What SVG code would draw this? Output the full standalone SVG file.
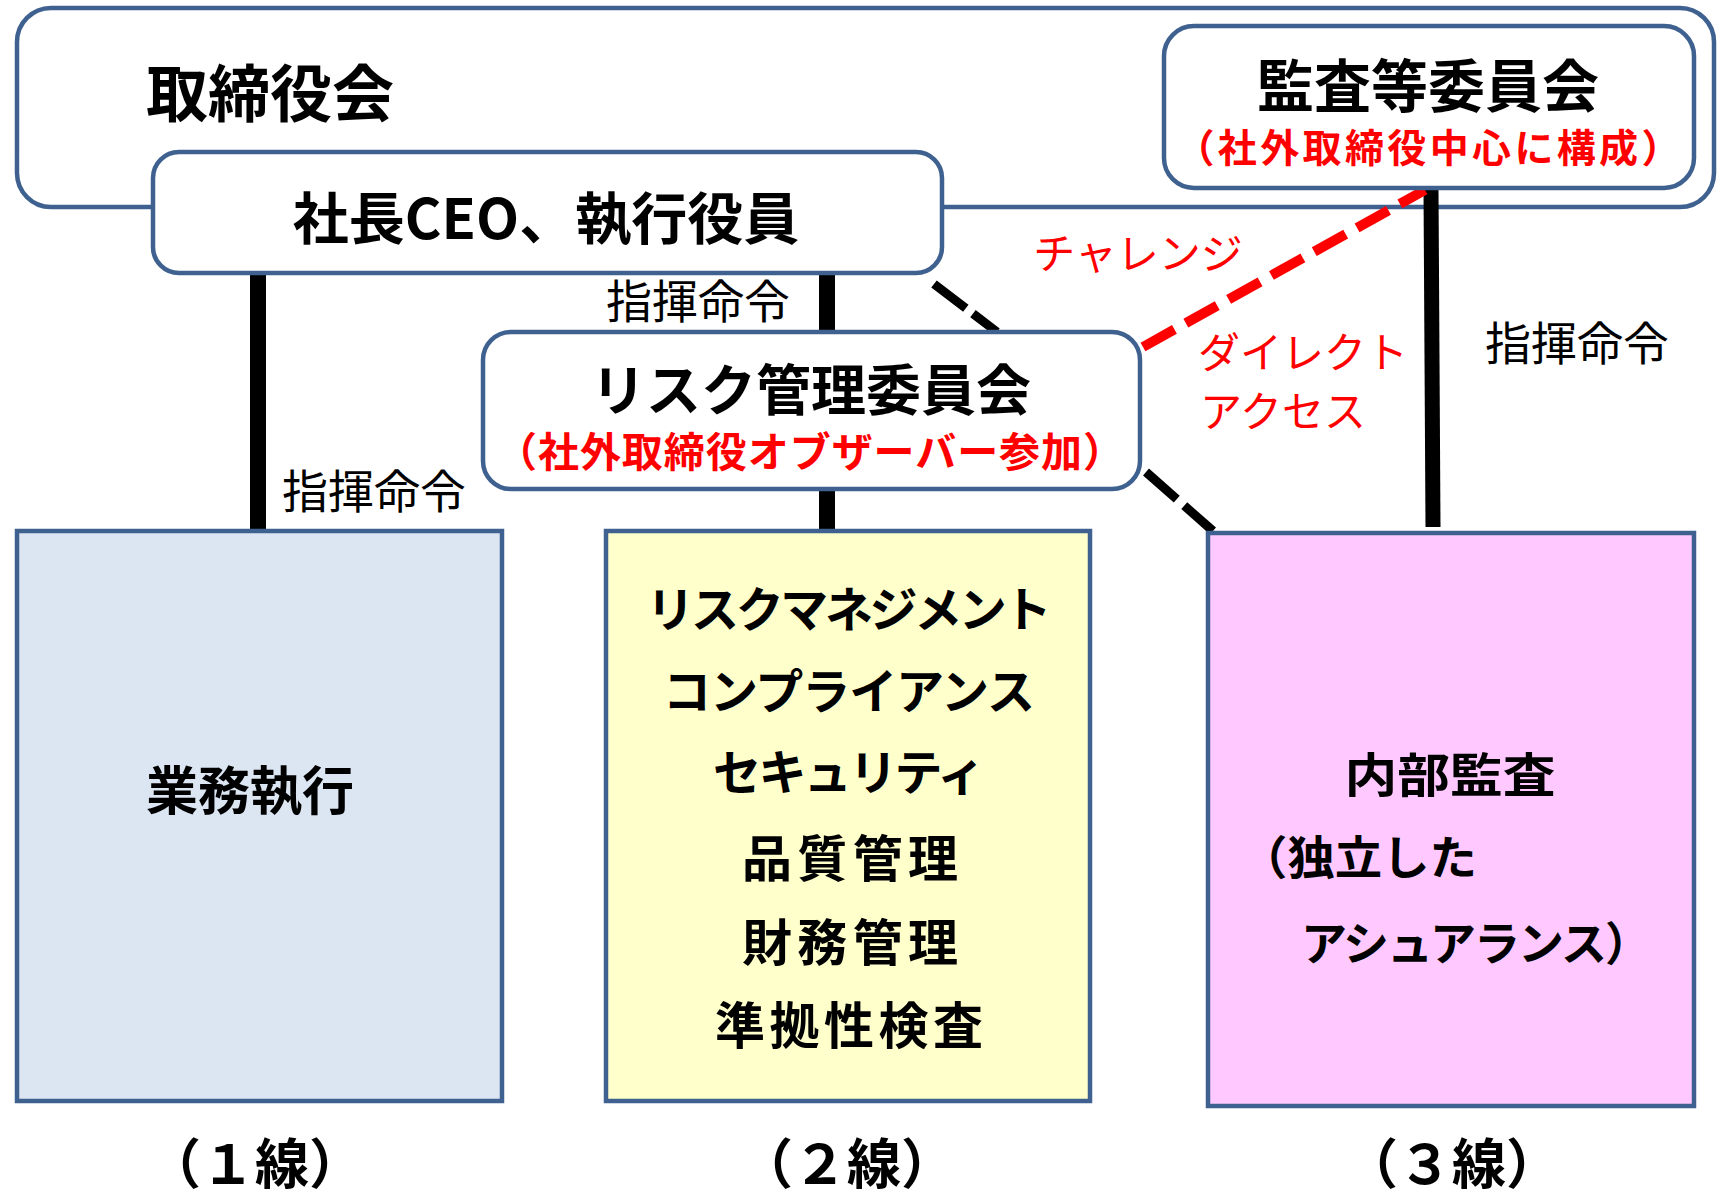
<svg xmlns="http://www.w3.org/2000/svg" width="1719" height="1197" viewBox="0 0 1719 1197">
<style>
.box{stroke:#3e6190;stroke-width:4.5;}
.t{font-family:"Noto Sans CJK JP","Noto Sans CJK SC",sans-serif;fill:#000;}
.b{font-weight:700;}
.red{fill:#ff0000;}
.solid{stroke:#000;fill:none;}
.dash{stroke:#000;stroke-width:9;fill:none;}
.rdash{stroke:#ff0000;stroke-width:10;fill:none;stroke-dasharray:36 13;}
</style>
<rect width="1719" height="1197" fill="#ffffff"/>
<g id="board">
<rect class="box" x="17" y="8" width="1697" height="199" rx="34" fill="#ffffff"/>
<text class="t b" x="146" y="117" font-size="62">取締役会</text>
</g>
<g id="connectors">
<line class="solid" x1="258" y1="273" x2="258" y2="531" stroke-width="16"/>
<line class="solid" x1="827" y1="273" x2="827" y2="332" stroke-width="16"/>
<line class="solid" x1="827" y1="489" x2="827" y2="531" stroke-width="16"/>
<line class="solid" x1="1431" y1="188" x2="1433" y2="527" stroke-width="15"/>
<line class="dash" x1="934" y1="284" x2="997" y2="332" stroke-dasharray="40 9"/>
<line class="dash" x1="1146" y1="472" x2="1213" y2="531" stroke-dasharray="41 10"/>
<line class="rdash" x1="1143" y1="347" x2="1425" y2="190"/>
</g>
<g id="ceo">
<rect class="box" x="153" y="152" width="789" height="121" rx="26" fill="#ffffff"/>
<text class="t b" x="546" y="239" font-size="56" text-anchor="middle">社長CEO、執行役員</text>
</g>
<g id="audit-committee">
<rect class="box" x="1164" y="26" width="530" height="162" rx="30" fill="#ffffff"/>
<text class="t b" x="1428" y="107" font-size="57" text-anchor="middle">監査等委員会</text>
<text class="t b red" x="1428" y="162" font-size="39" text-anchor="middle" textLength="505">（社外取締役中心に構成）</text>
</g>
<g id="risk-committee">
<rect class="box" x="483" y="332" width="657" height="157" rx="28" fill="#ffffff"/>
<text class="t b" x="811" y="410" font-size="55" text-anchor="middle">リスク管理委員会</text>
<text class="t b red" x="810" y="467" font-size="41" text-anchor="middle" textLength="628">（社外取締役オブザーバー参加）</text>
</g>
<g id="labels">
<text class="t" x="698" y="318" font-size="46" text-anchor="middle">指揮命令</text>
<text class="t" x="374" y="508" font-size="46" text-anchor="middle">指揮命令</text>
<text class="t" x="1577" y="360" font-size="46" text-anchor="middle">指揮命令</text>
<text class="t red" x="1138" y="269" font-size="42" text-anchor="middle">チャレンジ</text>
<text class="t red" x="1198" y="368" font-size="42">ダイレクト</text>
<text class="t red" x="1200" y="427" font-size="42">アクセス</text>
</g>
<g id="line1">
<rect class="box" x="17" y="531" width="485" height="570" fill="#dce6f2"/>
<text class="t b" x="250" y="810" font-size="52" text-anchor="middle">業務執行</text>
<text class="t b" x="255" y="1184" font-size="54" text-anchor="middle">（１線）</text>
</g>
<g id="line2">
<rect class="box" x="606" y="531" width="484" height="570" fill="#ffffcc"/>
<text class="t b" x="849" y="627" font-size="48" text-anchor="middle" textLength="405">リスクマネジメント</text>
<text class="t b" x="849" y="709" font-size="48" text-anchor="middle" textLength="372">コンプライアンス</text>
<text class="t b" x="849" y="790" font-size="48" text-anchor="middle" textLength="272">セキュリティ</text>
<text class="t b" x="850" y="877" font-size="50" text-anchor="middle" textLength="216">品質管理</text>
<text class="t b" x="850" y="961" font-size="50" text-anchor="middle" textLength="216">財務管理</text>
<text class="t b" x="849" y="1044" font-size="50" text-anchor="middle" textLength="268">準拠性検査</text>
<text class="t b" x="847" y="1184" font-size="54" text-anchor="middle">（２線）</text>
</g>
<g id="line3">
<rect class="box" x="1208" y="533" width="486" height="573" fill="#ffc9ff"/>
<text class="t b" x="1450" y="792" font-size="47" text-anchor="middle" textLength="211" lengthAdjust="spacingAndGlyphs">内部監査</text>
<text class="t b" x="1240" y="874" font-size="46" textLength="237" lengthAdjust="spacingAndGlyphs">（独立した</text>
<text class="t b" x="1301" y="960" font-size="46" textLength="350">アシュアランス）</text>
<text class="t b" x="1452" y="1184" font-size="54" text-anchor="middle">（３線）</text>
</g>
</svg>
